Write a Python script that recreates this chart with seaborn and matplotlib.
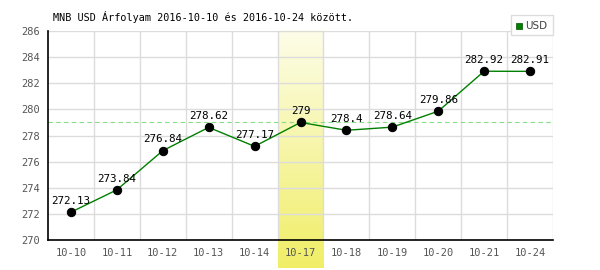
import numpy as np
import pandas as pd
import matplotlib
matplotlib.use("Agg")
import matplotlib.pyplot as plt
import seaborn as sns
from matplotlib.colors import LinearSegmentedColormap
from matplotlib.patches import Rectangle

dates = ["10-10", "10-11", "10-12", "10-13", "10-14", "10-17", "10-18", "10-19", "10-20", "10-21", "10-24"]
rates = [272.13, 273.84, 276.84, 278.62, 277.17, 279.0, 278.4, 278.64, 279.86, 282.92, 282.91]
labels = ["272.13", "273.84", "276.84", "278.62", "277.17", "279", "278.4", "278.64", "279.86", "282.92", "282.91"]
avg_line = 279.0
highlight = "10-17"
title = "MNB USD Árfolyam 2016-10-10 és 2016-10-24 között."
yticks = [270, 272, 274, 276, 278, 280, 282, 284, 286]

df = pd.DataFrame({"date": dates, "rate": rates, "label": labels})
df["pos"] = range(len(df))

sns.set_style("white")
plt.rcParams["font.family"] = ["DejaVu Sans Mono", "DejaVu Sans"]

fig = plt.figure(figsize=(6, 2.7), dpi=100)
ax = fig.add_axes([48 / 600, 30 / 270, (553 - 48) / 600, (240 - 31) / 270])

ax.set_xlim(-0.5, len(dates) - 0.5)
ax.set_ylim(270, 286)

# highlight band (gradient), extends below the axis
hi = dates.index(highlight)
grad = np.linspace(0, 1, 256).reshape(-1, 1)
cmap = LinearSegmentedColormap.from_list("yl", ["#fdfde9", "#f0ee66"])
units_per_px = 16 / 209
ax.imshow(grad, cmap=cmap, aspect="auto", origin="upper",
          extent=[hi - 0.5, hi + 0.5, 270 - 28 * units_per_px, 286 + 1 * units_per_px],
          clip_on=False, zorder=0)

# grid
for y in yticks[1:]:
    ax.axhline(y, color="#dcdcdc", lw=1, zorder=1)
for x in np.arange(0.5, len(dates), 1.0):
    ax.axvline(x, color="#dcdcdc", lw=1, zorder=1)

ax.axhline(avg_line, color="#88dd88", lw=0.8, ls=(0, (4, 3)), zorder=2)

sns.lineplot(data=df, x="pos", y="rate", ax=ax, color="#008000", lw=1,
             marker="o", markersize=6, markerfacecolor="black",
             markeredgecolor="black", zorder=4, legend=False)

for _, r in df.iterrows():
    ax.annotate(r["label"], (r["pos"], r["rate"]), xytext=(0, 4.5),
                textcoords="offset points", ha="center", va="bottom",
                fontsize=7.8, color="black", zorder=5)

ax.set_xticks(df["pos"])
ax.set_xticklabels(dates)
ax.set_yticks(yticks)
ax.tick_params(axis="both", length=0, labelsize=7.5, colors="#555555", pad=6)
ax.set_xlabel("")
ax.set_ylabel("")

for s in ["top", "right"]:
    ax.spines[s].set_visible(False)
ax.spines["left"].set_color("black")
ax.spines["left"].set_linewidth(1.2)
ax.spines["bottom"].set_color("black")
ax.spines["bottom"].set_linewidth(1.2)

fig.text(53 / 600, 1 - 17 / 270, title, fontsize=7.3, color="black", va="center", ha="left")

# legend box
fig.patches.append(Rectangle((511 / 600, 1 - 35 / 270), 42 / 600, 20 / 270,
                             transform=fig.transFigure, facecolor="white",
                             edgecolor="#dcdcdc", lw=1, zorder=10))
fig.patches.append(Rectangle((516 / 600, 1 - 29 / 270), 6 / 600, 6 / 270,
                             transform=fig.transFigure, facecolor="#008000",
                             edgecolor="#005000", lw=0.5, zorder=11))
fig.text(525 / 600, 1 - 26 / 270, "USD", fontsize=7.5, color="#444444",
         family=["DejaVu Sans"], va="center", ha="left", zorder=12)

fig.savefig("out.png", dpi=100)
